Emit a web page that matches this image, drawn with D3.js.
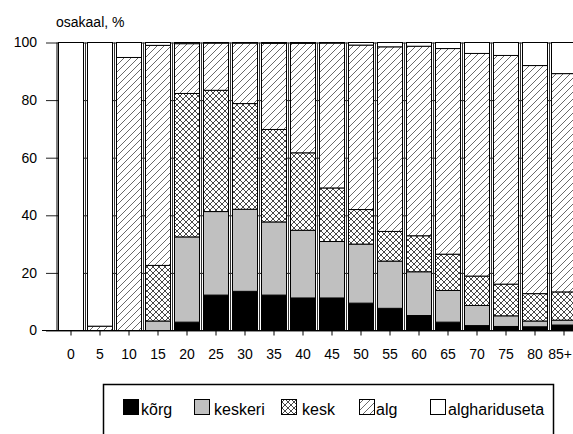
<!DOCTYPE html>
<html>
<head>
<meta charset="utf-8">
<script src="https://cdn.jsdelivr.net/npm/d3@7"></script>
<style>
  body { margin: 0; background: #fff; }
  svg { display: block; font-family: "Liberation Sans", Arial, sans-serif; }
</style>
</head>
<body>
<svg class="chart"></svg>
<script>
(function () {
    // age groups
    const categories = ["0", "5", "10", "15", "20", "25", "30", "35", "40", "45", "50", "55", "60", "65", "70", "75", "80", "85+"];
    // shares by education level, %
    const korg = [0, 0, 0, 0, 2.9, 12.3, 13.6, 12.3, 11.3, 11.3, 9.5, 7.7, 5.2, 2.9, 1.7, 1.4, 1.3, 1.9];
    const keskeri = [0, 0, 0, 3.3, 29.6, 29.0, 28.5, 25.4, 23.5, 19.6, 20.5, 16.4, 15.2, 11.0, 7.0, 3.7, 2.0, 1.7];
    const kesk = [0, 0, 0, 19.3, 49.8, 42.1, 36.7, 32.1, 26.9, 18.6, 12.0, 10.3, 12.5, 12.6, 10.2, 11.0, 9.5, 9.8];
    const alg = [0, 1.5, 94.8, 76.4, 17.3, 16.4, 21.0, 29.9, 38.0, 50.3, 57.1, 64.1, 65.8, 71.4, 77.3, 79.4, 79.2, 75.8];
    const alghariduseta = [100, 98.5, 5.2, 1.0, 0.4, 0.2, 0.2, 0.3, 0.3, 0.2, 0.9, 1.5, 1.3, 2.1, 3.8, 4.5, 8.0, 10.8];

    const seriesKeys = ["korg", "keskeri", "kesk", "alg", "alghariduseta"];
    const seriesLabels = ["kõrg", "keskeri", "kesk", "alg", "alghariduseta"];
    const yTicks = [0, 20, 40, 60, 80, 100];

    const width = 573, height = 434;
    const left = 56.5, step = 29, barW = 25;

    const svg = d3.select("svg.chart")
        .attr("width", width)
        .attr("height", height);

    // fill patterns
    const defs = svg.append("defs");
    const cross = defs.append("pattern")
        .attr("id", "pat-kesk")
        .attr("patternUnits", "userSpaceOnUse")
        .attr("width", 6).attr("height", 6);
    cross.append("rect").attr("width", 6).attr("height", 6).attr("fill", "#fff");
    cross.append("path")
        .attr("d", "M0,0L6,6M6,0L0,6")
        .attr("stroke", "#333").attr("stroke-width", 0.9);

    const diag = defs.append("pattern")
        .attr("id", "pat-alg")
        .attr("patternUnits", "userSpaceOnUse")
        .attr("width", 7).attr("height", 7);
    diag.append("rect").attr("width", 7).attr("height", 7).attr("fill", "#fff");
    diag.append("path")
        .attr("d", "M-1,1L1,-1M0,7L7,0M6,8L8,6")
        .attr("stroke", "#444").attr("stroke-width", 0.8);

    const fills = {
        korg: "#000",
        keskeri: "#c0c0c0",
        kesk: "url(#pat-kesk)",
        alg: "url(#pat-alg)",
        alghariduseta: "#fff"
    };

    const x = d3.scaleBand()
        .domain(categories)
        .range([left, left + step * categories.length])
        .padding(0);

    const y = d3.scaleLinear()
        .domain([0, 100])
        .range([330.5, 42.5]);

    // horizontal grid + y labels
    const yAxis = svg.append("g")
        .attr("transform", "translate(46,0)")
        .call(d3.axisLeft(y).tickValues(yTicks).tickSize(-(width - 40)).tickPadding(9));
    yAxis.select(".domain").remove();
    yAxis.selectAll(".tick line").attr("stroke", "#222");
    yAxis.selectAll("text").attr("font-size", 14).attr("fill", "#000");

    // vertical lines between age groups
    svg.append("g").selectAll("line")
        .data(categories)
        .enter().append("line")
        .attr("x1", function (d) { return x(d) + step; })
        .attr("x2", function (d) { return x(d) + step; })
        .attr("y1", y(100))
        .attr("y2", y(0))
        .attr("stroke", "#333");

    // y axis line
    svg.append("line")
        .attr("x1", 57).attr("x2", 57)
        .attr("y1", y(100)).attr("y2", y(0))
        .attr("stroke", "#000");

    // stacked bars
    const table = categories.map(function (c, i) {
        return { cat: c, korg: korg[i], keskeri: keskeri[i], kesk: kesk[i], alg: alg[i], alghariduseta: alghariduseta[i] };
    });
    const stacked = d3.stack().keys(seriesKeys)(table);

    svg.append("g").selectAll("g")
        .data(stacked)
        .enter().append("g")
        .attr("fill", function (s) { return fills[s.key]; })
        .selectAll("rect")
        .data(function (s) { return s.filter(function (d) { return d[1] - d[0] > 0; }); })
        .enter().append("rect")
        .attr("x", function (d) { return x(d.data.cat) + (step - barW) / 2; })
        .attr("width", barW)
        .attr("y", function (d) { return y(d[1]); })
        .attr("height", function (d) { return y(d[0]) - y(d[1]); })
        .attr("stroke", "#000")
        .attr("stroke-width", 1);

    // x axis
    const xAxis = svg.append("g")
        .attr("transform", "translate(0," + y(0) + ")")
        .call(d3.axisBottom(x).tickSize(5).tickSizeOuter(0).tickPadding(14));
    xAxis.select(".domain").remove();
    xAxis.selectAll("text")
        .attr("font-size", 14)
        .attr("fill", "#000")
        .attr("dx", function (d) { return d === "85+" ? -4 : 0; });
    xAxis.selectAll(".tick line").attr("stroke", "#000");
    svg.append("line")
        .attr("x1", 42).attr("x2", width)
        .attr("y1", y(0)).attr("y2", y(0))
        .attr("stroke", "#000");

    // title
    svg.append("text")
        .attr("x", 56)
        .attr("y", 27)
        .attr("font-size", 14)
        .text("osakaal, %");

    // legend
    svg.append("rect")
        .attr("x", 103.5).attr("y", 384.5)
        .attr("width", 450).attr("height", 70)
        .attr("fill", "none")
        .attr("stroke", "#000")
        .attr("stroke-width", 1.5);

    const legendSquareX = [123, 194, 281, 359, 430];
    const legendTextX = [141, 214, 302, 376, 448];
    const legend = svg.append("g").selectAll("g")
        .data(seriesKeys)
        .enter().append("g");
    legend.append("rect")
        .attr("x", function (d, i) { return legendSquareX[i] + 0.5; })
        .attr("y", 399.5)
        .attr("width", 15).attr("height", 15)
        .attr("fill", function (d) { return fills[d]; })
        .attr("stroke", "#000");
    legend.append("text")
        .attr("x", function (d, i) { return legendTextX[i]; })
        .attr("y", 415)
        .attr("font-size", 16)
        .text(function (d, i) { return seriesLabels[i]; });
}());
</script>
</body>
</html>
